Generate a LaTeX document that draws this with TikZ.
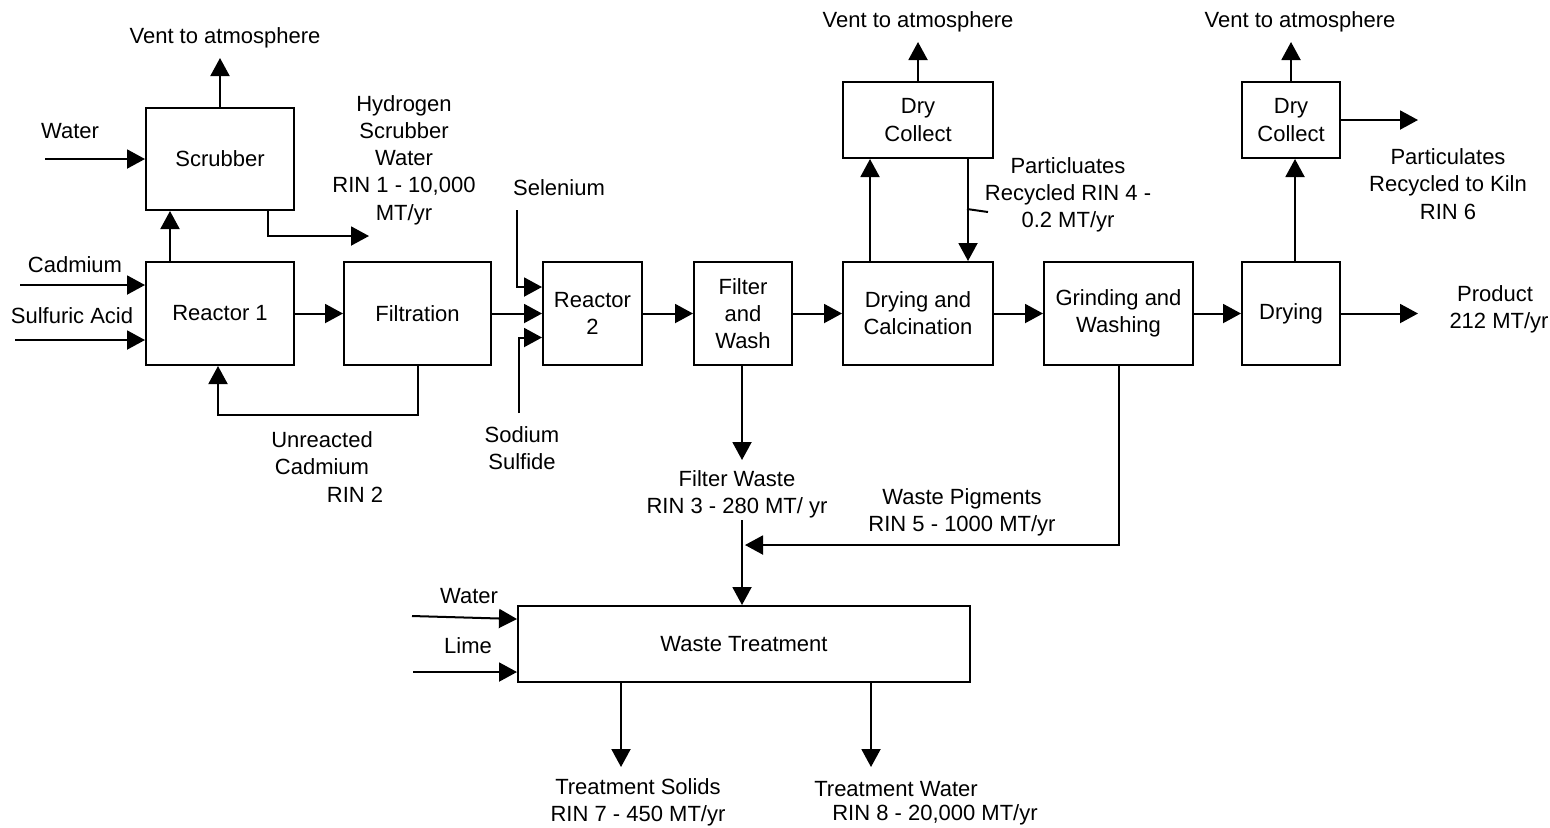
\documentclass[tikz,border=0pt]{standalone}
\usepackage{fontspec}
\setmainfont{Liberation Sans}
\usetikzlibrary{arrows.meta}
\tikzset{
  txt/.style={font=\fontsize{11}{13.6}\selectfont},
  box/.style={draw, line width=1pt, inner sep=0pt, align=center, txt},
  lbl/.style={inner sep=0pt, align=center, txt},
  arr/.style={line width=1pt, -{Triangle[length=9pt,width=9.5pt]}},
  ln/.style={line width=1pt}
}
\begin{document}
\begin{tikzpicture}[x=0.5pt,y=-0.5pt]
\useasboundingbox (0,0) rectangle (1550,827);
% boxes
\node[box, minimum width=74pt, minimum height=51pt] (scrub) at (220,159) {Scrubber};
\node[box, minimum width=74pt, minimum height=51.5pt] (r1) at (220,313.5) {Reactor 1};
\node[box, minimum width=73.5pt, minimum height=51.5pt] (filt) at (417.5,313.5) {Filtration};
\node[box, minimum width=49.5pt, minimum height=51.5pt] (r2) at (592.5,313.5) {Reactor\\2};
\node[box, minimum width=49pt, minimum height=51.5pt] (fw) at (743,313.5) {Filter\\and\\Wash};
\node[box, minimum width=75pt, minimum height=51.5pt] (dc) at (918,313.5) {Drying and\\Calcination};
\node[box, minimum width=74.5pt, minimum height=51.5pt] (gw) at (1118.5,313.5) {Grinding and\\Washing};
\node[box, minimum width=49pt, minimum height=51.5pt] (dry) at (1291,313.5) {Drying};
\node[box, minimum width=75pt, minimum height=38pt] (col1) at (918,120) {Dry\\Collect};
\node[box, minimum width=49pt, minimum height=38pt] (col2) at (1291,120) {Dry\\Collect};
\node[box, minimum width=226pt, minimum height=38pt] (wt) at (744,644) {Waste Treatment};
% labels
\node[lbl] (vent1) at (225,38) {Vent to atmosphere};
\node[lbl] (vent2) at (918,22) {Vent to atmosphere};
\node[lbl] (vent3) at (1300,22) {Vent to atmosphere};
\node[lbl] (lwater1) at (70,131) {Water};
\node[lbl] (lh2) at (404,160) {Hydrogen\\Scrubber\\Water\\RIN 1 - 10,000\\MT/yr};
\node[lbl] (lcd) at (75,265) {Cadmium};
\node[lbl] (lsa) at (72,316) {Sulfuric Acid};
\node[lbl] (lunr) at (322,467) {Unreacted\\Cadmium\\\hspace*{33pt}RIN 2};
\node[lbl] (lse) at (559,188) {Selenium};
\node[lbl] (lna) at (522,448) {Sodium\\Sulfide};
\node[lbl] (lp4) at (1068,195) {Particluates\\Recycled RIN 4 -\\0.2 MT/yr};
\node[lbl] (lp6) at (1448,184) {Particulates\\Recycled to Kiln\\RIN 6};
\node[lbl] (lprod) at (1495,309) {Product\\\hspace*{4pt}212 MT/yr};
\node[lbl] (lfw) at (737,494) {Filter Waste\\RIN 3 - 280 MT/ yr};
\node[lbl] (lwp) at (962,512) {Waste Pigments\\RIN 5 - 1000 MT/yr};
\node[lbl] (lwater2) at (469,596) {Water};
\node[lbl] (llime) at (468,646) {Lime};
\node[lbl] (lts) at (638,802) {Treatment Solids\\RIN 7 - 450 MT/yr};
\node[lbl] (ltw1) at (896,789) {Treatment Water};
\node[lbl] (ltw2) at (935,815) {RIN 8 - 20,000 MT/yr};
% free-end coordinates
\coordinate (cvent1) at (220,58);
\coordinate (cwater1) at (45,159);
\coordinate (ch2o) at (369,236);
\coordinate (ccd) at (20,285);
\coordinate (csa) at (15,340);
\coordinate (cse) at (517,210);
\coordinate (cna) at (519,413);
\coordinate (cvent2) at (918,42);
\coordinate (cvent3) at (1291,42);
\coordinate (cp6) at (1418,120);
\coordinate (cprod) at (1418,313.5);
\coordinate (cfw) at (742,460);
\coordinate (cfw2) at (742,520);
\coordinate (cwp) at (745,545);
\coordinate (cwater2) at (412,616);
\coordinate (clime) at (413,672);
\coordinate (cts) at (621,767);
\coordinate (ctw) at (871,767);
\coordinate (cl4a) at (967,209);
\coordinate (cl4b) at (988,212);
% connectors
\draw[arr] (scrub.north) -- (cvent1);
\draw[arr] (cwater1) -- (scrub.west);
\draw[arr] ([xshift=24pt]scrub.south) |- (ch2o);
\draw[arr] ([xshift=-25pt]r1.north) -- ([xshift=-25pt]scrub.south);
\draw[arr] (ccd) -- (ccd -| r1.west);
\draw[arr] (csa) -- (csa -| r1.west);
\draw[arr] (r1.east) -- (filt.west);
\draw[arr] (filt.south) -- ++(0,49) -| ([xshift=-1pt]r1.south);
\draw[arr] (filt.east) -- (r2.west);
\draw[arr] (cse) |- ([yshift=13.25pt]r2.west);
\draw[arr] (cna) |- ([yshift=-12pt]r2.west);
\draw[arr] (r2.east) -- (fw.west);
\draw[arr] (fw.east) -- (dc.west);
\draw[arr] (dc.east) -- (gw.west);
\draw[arr] (gw.east) -- (dry.west);
\draw[arr] (dry.east) -- (cprod);
\draw[arr] ([xshift=-24pt]dc.north) -- ([xshift=-24pt]col1.south);
\draw[arr] ([xshift=25pt]col1.south) -- ([xshift=25pt]dc.north);
\draw[arr] (col1.north) -- (cvent2);
\draw[ln] (cl4a) -- (cl4b);
\draw[arr] ([xshift=2pt]dry.north) -- ([xshift=2pt]col2.south);
\draw[arr] (col2.north) -- (cvent3);
\draw[arr] (col2.east) -- (cp6);
\draw[arr] ([xshift=-0.5pt]fw.south) -- (cfw);
\draw[arr] (cfw2) -- (cfw2 |- wt.north);
\draw[arr] (gw.south) |- (cwp);
\draw[arr] (cwater2) -- ([yshift=12.5pt]wt.west);
\draw[arr] (clime) -- (clime -| wt.west);
\draw[arr] ([xshift=-61.5pt]wt.south) -- (cts);
\draw[arr] ([xshift=63.5pt]wt.south) -- (ctw);
\end{tikzpicture}
\end{document}
